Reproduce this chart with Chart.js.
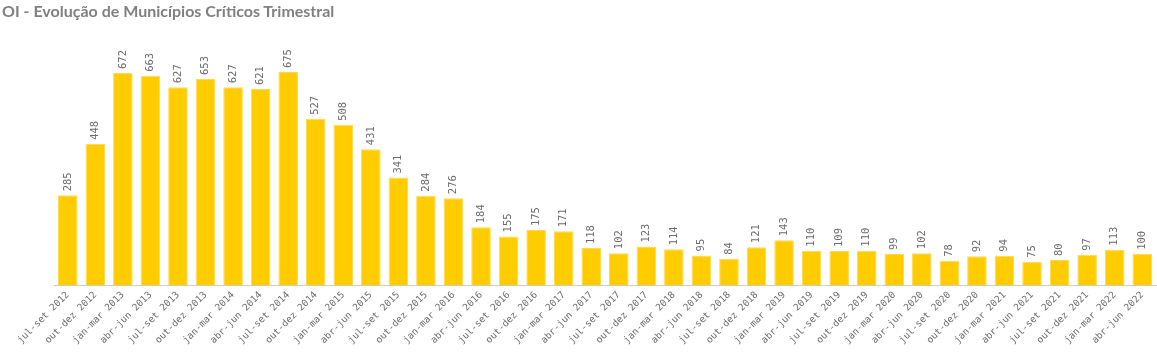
<!DOCTYPE html>
<html><head><meta charset="utf-8">
<script src="https://cdn.jsdelivr.net/npm/chart.js@4"></script>
<style>
html,body{margin:0;padding:0;background:#fff}
#wrap{position:relative;width:1157px;height:361px}
#title{position:absolute;left:2px;top:1px;font:bold 16px Lato,sans-serif;color:#808080;line-height:19px;white-space:nowrap}
</style>
</head><body><div id="wrap"><canvas id="c"></canvas><div id="title"></div></div>
<script>
const categories = ["jul-set 2012","out-dez 2012","jan-mar 2013","abr-jun 2013","jul-set 2013","out-dez 2013","jan-mar 2014","abr-jun 2014","jul-set 2014","out-dez 2014","jan-mar 2015","abr-jun 2015","jul-set 2015","out-dez 2015","jan-mar 2016","abr-jun 2016","jul-set 2016","out-dez 2016","jan-mar 2017","abr-jun 2017","jul-set 2017","out-dez 2017","jan-mar 2018","abr-jun 2018","jul-set 2018","out-dez 2018","jan-mar 2019","abr-jun 2019","jul-set 2019","out-dez 2019","jan-mar 2020","abr-jun 2020","jul-set 2020","out-dez 2020","jan-mar 2021","abr-jun 2021","jul-set 2021","out-dez 2021","jan-mar 2022","abr-jun 2022"];
const criticos = [285,448,672,663,627,653,627,621,675,527,508,431,341,284,276,184,155,175,171,118,102,123,114,95,84,121,143,110,109,110,99,102,78,92,94,75,80,97,113,100];
const titleText = "OI - Evolução de Municípios Críticos Trimestral";
document.getElementById('title').textContent = titleText;

const valueLabels = {
  id: 'valueLabels',
  afterDatasetsDraw(chart) {
    const ctx = chart.ctx;
    const meta = chart.getDatasetMeta(0);
    ctx.save();
    ctx.font = '10.5px "DejaVu Sans Mono"';
    ctx.fillStyle = '#6b6b6b';
    ctx.textAlign = 'left';
    ctx.textBaseline = 'middle';
    meta.data.forEach((bar, i) => {
      ctx.save();
      ctx.translate(bar.x, bar.y - 4);
      ctx.rotate(-Math.PI / 2);
      ctx.fillText(String(criticos[i]), 0, 0);
      ctx.restore();
    });
    ctx.restore();
  }
};

new Chart(document.getElementById('c'), {
  type: 'bar',
  data: {
    labels: categories,
    datasets: [{
      data: criticos,
      backgroundColor: '#ffcc00',
      borderColor: '#ffd94d',
      borderWidth: 1,
      barPercentage: 0.71,
      categoryPercentage: 1.0
    }]
  },
  options: {
    responsive: true,
    maintainAspectRatio: false,
    animation: false,
    layout: { padding: { left: 54, right: 1, top: 30, bottom: 11 } },
    plugins: {
      legend: { display: false },
      tooltip: { enabled: false },
      title: { display: false }
    },
    scales: {
      x: {
        grid: { display: false, drawTicks: false },
        border: { display: true, color: '#cccccc', width: 1 },
        ticks: {
          color: '#6b6b6b',
          font: { family: '"DejaVu Sans Mono"', size: 9.5 },
          minRotation: 45, maxRotation: 45,
          autoSkip: false,
          padding: 4
        }
      },
      y: {
        display: false,
        min: 0,
        max: 808
      }
    }
  },
  plugins: [valueLabels]
});
</script>
</body></html>
